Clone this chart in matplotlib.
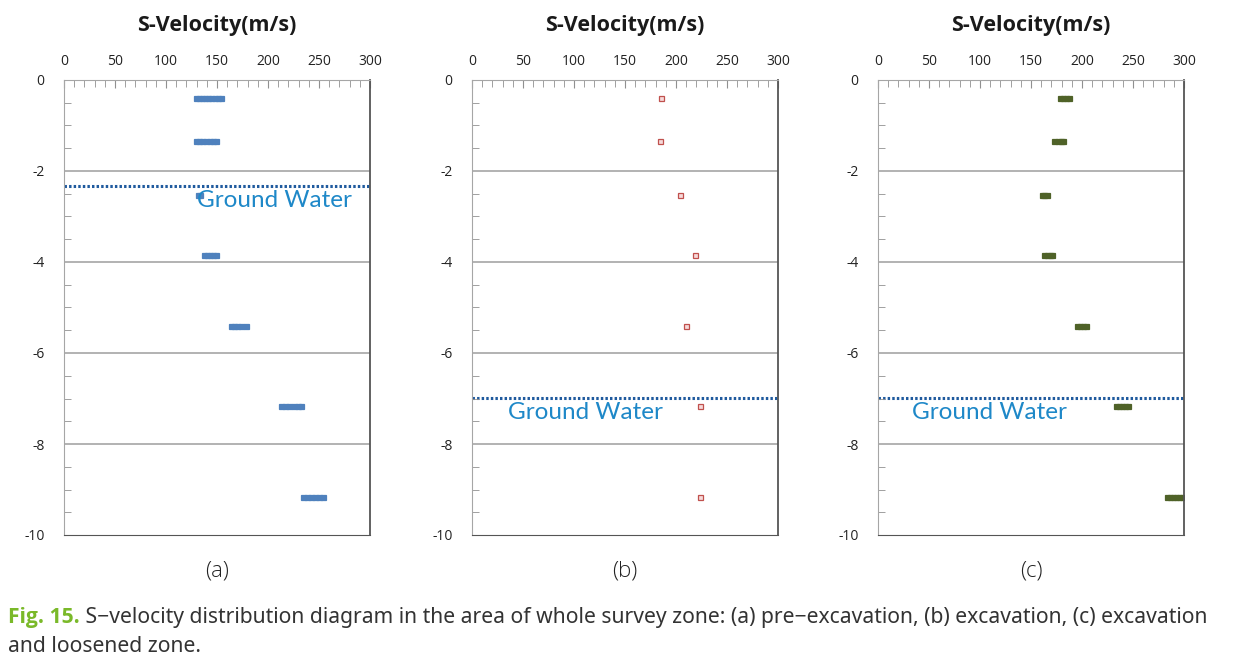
import matplotlib.pyplot as plt
from matplotlib.ticker import MultipleLocator

plt.rcParams['axes.unicode_minus'] = False
plt.rcParams['font.family'] = ['Open Sans', 'DejaVu Sans']

# depth (m) of each measurement level and velocities read at it
depths = [-0.4, -1.35, -2.52, -3.85, -5.4, -7.17, -9.17]

vel_pre = [
    [129, 132, 135, 138, 141, 144, 148, 151, 154],
    [129, 132, 135, 139, 143, 146, 149],
    [131, 133],
    [137, 140, 143, 146, 149],
    [164, 167, 170, 174, 178],
    [213, 217, 221, 225, 229, 232],
    [234, 238, 242, 246, 250, 254],
]
vel_exc = [[185], [184], [204], [219], [210], [224], [224]]
vel_loose = [
    [178, 181, 184, 187],
    [173, 176, 179, 181],
    [161, 163, 166],
    [163, 166, 169, 171],
    [195, 198, 201, 204],
    [233, 236, 239, 242, 245],
    [283, 286, 289, 292, 295, 298],
]

gw_levels = [-2.33, -6.98, -6.98]
panel_labels = ['(a)', '(b)', '(c)']
caption_bold = 'Fig. 15.'
caption_rest = (' S\u2212velocity distribution diagram in the area of whole survey zone: '
                '(a) pre\u2212excavation, (b) excavation, (c) excavation')
caption_line2 = 'and loosened zone.'

styles = [
    dict(mfc='#4F81BD', mec='#4F81BD'),
    dict(mfc='#F6DADA', mec='#C0504D'),
    dict(mfc='#4F6228', mec='#4F6228'),
]
gw_text_pos = [(130, -2.65), (35, -7.3), (33, -7.3)]

fig = plt.figure(figsize=(12.37, 6.72), dpi=100)
lefts = [64 / 1237, 472 / 1237, 878 / 1237]
w = 306 / 1237
bottom = 1 - 535 / 672
h = 455 / 672

for i, vels in enumerate([vel_pre, vel_exc, vel_loose]):
    ax = fig.add_axes([lefts[i], bottom, w, h])
    for d, vs in zip(depths, vels):
        ax.plot(vs, [d] * len(vs), 's', ms=3.6, mew=0.9, linestyle='none', **styles[i])
    ax.set_xlim(0, 300)
    ax.set_ylim(-10, 0)
    ax.xaxis.tick_top()
    ax.xaxis.set_major_locator(MultipleLocator(50))
    ax.xaxis.set_minor_locator(MultipleLocator(10))
    ax.yaxis.set_major_locator(MultipleLocator(2))
    ax.yaxis.set_minor_locator(MultipleLocator(0.5))
    ax.tick_params(axis='x', which='both', direction='in', colors='#909090',
                   labelcolor='#222222', labelsize=10, pad=8)
    ax.tick_params(axis='x', which='major', length=6)
    ax.tick_params(axis='x', which='minor', length=5)
    ax.tick_params(axis='y', which='both', direction='in', colors='#909090',
                   labelcolor='#222222', labelsize=10, pad=14)
    ax.tick_params(axis='y', which='major', length=0)
    ax.tick_params(axis='y', which='minor', length=5)
    for y in [-2, -4, -6, -8]:
        ax.axhline(y, color='#A6A6A6', lw=1.2, zorder=0)
    ax.spines['left'].set_color('#A6A6A6')
    ax.spines['top'].set_color('#A6A6A6')
    ax.spines['right'].set_color('#555555')
    ax.spines['bottom'].set_color('#555555')
    ax.spines['right'].set_linewidth(1.3)
    ax.axhline(gw_levels[i], color='#1F5A9E', lw=2.2, linestyle=(0, (0.8, 0.7)), zorder=1)
    ax.text(gw_text_pos[i][0], gw_text_pos[i][1], 'Ground Water', color='#1E88C8',
            fontsize=17.5, va='center', ha='left', family=['Lato', 'DejaVu Sans'], zorder=3)
    fig.text(lefts[i] + w / 2, 1 - 25 / 672, 'S-Velocity(m/s)', ha='center', va='center',
             fontsize=15.5, fontweight='bold', color='#1a1a1a')
    fig.text(lefts[i] + w / 2 - 0.0, 1 - 571 / 672, panel_labels[i], ha='center',
             va='center', fontsize=16, color='#222222', fontweight='light')

t = fig.text(8 / 1237, 1 - 618 / 672, caption_bold, fontsize=15.2, fontweight='bold',
             color='#7AB929', va='center', ha='left', family=['Open Sans', 'DejaVu Sans'])
fig.canvas.draw()
bb = t.get_window_extent()
x1 = bb.x1 / fig.bbox.width
fig.text(x1, 1 - 618 / 672, caption_rest, fontsize=15.2, color='#333333', va='center',
         ha='left', family=['Noto Sans', 'DejaVu Sans'])
fig.text(8 / 1237, 1 - 646 / 672, caption_line2, fontsize=15.2, color='#333333',
         va='center', ha='left', family=['Noto Sans', 'DejaVu Sans'])

fig.savefig('out.png', dpi=100)
